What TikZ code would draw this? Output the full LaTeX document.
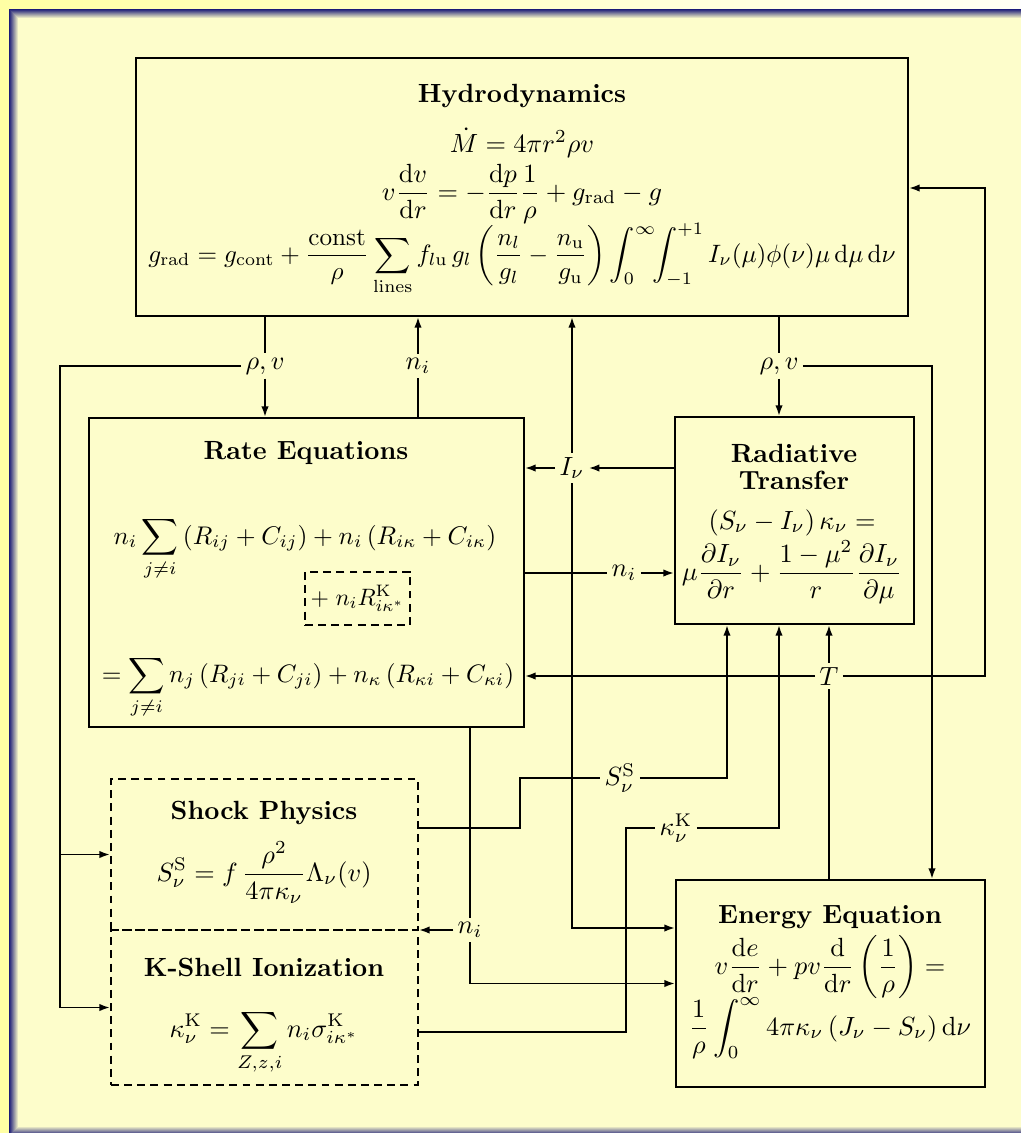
\documentclass[tikz,border=0pt]{standalone}
\usepackage{amsmath}
\usepackage{xcolor}
\usepackage{tikz}
\usetikzlibrary{arrows.meta, positioning, fit, calc}

\definecolor{paper}{HTML}{FFFFCC}
\definecolor{strip}{HTML}{FFFFA4}
\definecolor{stripend}{HTML}{FFFFF4}
\definecolor{frameblue}{HTML}{1A1A78}

\begin{document}
\begin{tikzpicture}[
  x=0.38pt, y=-0.38pt,
  box/.style  = {draw, line width=0.8pt, inner sep=0pt},
  dbox/.style = {box, dash pattern=on 3pt off 2pt},
  head/.style = {font=\bfseries, inner sep=0pt},
  eq/.style   = {anchor=base, inner sep=0pt},
  lbl/.style  = {inner sep=1.5pt},
  ln/.style   = {line width=0.7pt},
  arr/.style  = {-{Latex[length=4pt,width=2.8pt]}, line width=0.7pt},
]
\useasboundingbox (0,0) rectangle (1020,1133);

%% Background and frame
\shade[left color=strip, right color=stripend] (0,0) rectangle (1020,1133);
\foreach \k [evaluate=\k as \mix using int(100-11*\k)] in {0,...,9}
  \fill[frameblue!\mix!paper] (9+\k,9+\k) rectangle (1040,1136-\k);

%% Boxes
\node[box,  fit={(136,58) (908,316)}]   (hydro)  {};
\node[box,  fit={(89,418) (524,727)}]   (rate)   {};
\node[box,  fit={(675,417) (914,624)}]  (rad)    {};
\node[box,  fit={(676,880) (985,1087)}] (energy) {};
\node[dbox, fit={(111,779) (418,930)}]  (shock)  {};
\node[dbox, fit={(111,930) (418,1085)}] (kshell) {};
\node[dbox, fit={(305,572) (410,625)}]  (rk)     {};
\node[scale=0.9, transform shape, inner sep=0pt] (rkA) at (rk.center)
  {$+\;n_i R^{\mathrm{K}}_{i\kappa^*}$};

%% Hydrodynamics
\node[head] (hydT) at (522,96) {Hydrodynamics};
\node[eq] (hydA) at (522,152) {$\dot M = 4\pi r^2\rho v$};
\node[eq] (hydB) at (522,200)
  {$\displaystyle v\frac{\mathrm{d}v}{\mathrm{d}r} = -\frac{\mathrm{d}p}{\mathrm{d}r}\frac{1}{\rho} + g_{\mathrm{rad}} - g$};
\node[eq, scale=0.955, transform shape] (hydC) at (522,262)
  {$\displaystyle g_{\mathrm{rad}} = g_{\mathrm{cont}} + \frac{\mathrm{const}}{\rho}\sum_{\mathrm{lines}} f_{l\mathrm{u}}\, g_l \left(\frac{n_l}{g_l} - \frac{n_{\mathrm{u}}}{g_{\mathrm{u}}}\right) \int_0^\infty\!\!\int_{-1}^{+1} I_\nu(\mu)\phi(\nu)\mu\,\mathrm{d}\mu\,\mathrm{d}\nu$};

%% Rate equations
\node[head] (rateT) at (306,453) {Rate Equations};
\node[eq, scale=0.97, transform shape] (rateA) at (305,544)
  {$\displaystyle n_i\sum_{j\neq i}\,(R_{ij}+C_{ij}) + n_i\,(R_{i\kappa}+C_{i\kappa})$};
\node[eq, scale=0.96, transform shape] (rateB) at (308,682)
  {$\displaystyle = \sum_{j\neq i} n_j\,(R_{ji}+C_{ji}) + n_\kappa\,(R_{\kappa i}+C_{\kappa i})$};

%% Radiative transfer
\node[head, align=center] (radT) at (794,467) {Radiative\\[-2pt]Transfer};
\node[eq] (radA) at (792,529) {$(S_\nu - I_\nu)\,\kappa_\nu =$};
\node[eq] (radB) at (792,580)
  {$\displaystyle \mu\frac{\partial I_\nu}{\partial r} + \frac{1-\mu^2}{r}\frac{\partial I_\nu}{\partial \mu}$};

%% Shock physics and K-shell ionization
\node[head] (shockT) at (264,813) {Shock Physics};
\node[eq] (shockA) at (264,881)
  {$\displaystyle S^{\mathrm{S}}_\nu = f\,\frac{\rho^2}{4\pi\kappa_\nu}\Lambda_\nu(v)$};
\node[head] (kshT) at (264,967) {K-Shell Ionization};
\node[eq] (kshA) at (264,1037)
  {$\displaystyle \kappa^{\mathrm{K}}_\nu = \sum_{Z,z,i} n_i\sigma^{\mathrm{K}}_{i\kappa^*}$};

%% Energy equation
\node[head] (enT) at (830,917) {Energy Equation};
\node[eq] (enA) at (830,974)
  {$\displaystyle v\frac{\mathrm{d}e}{\mathrm{d}r} + pv\frac{\mathrm{d}}{\mathrm{d}r}\left(\frac{1}{\rho}\right) =$};
\node[eq] (enB) at (830,1035)
  {$\displaystyle \frac{1}{\rho}\int_0^\infty 4\pi\kappa_\nu\,(J_\nu - S_\nu)\,\mathrm{d}\nu$};

%% Connector labels
\node[lbl] (rhoL) at (265,366) {$\rho, v$};
\node[lbl] (niH)  at (418,366) {$n_i$};
\node[lbl] (rhoR) at (779,366) {$\rho, v$};
\node[lbl] (Inu)  at (572,468) {$I_\nu$};
\node[lbl] (niR)  at (624,573) {$n_i$};
\node[lbl] (T)    at (829,676) {$T$};
\node[lbl] (SS)   at (620,778) {$S^{\mathrm{S}}_\nu$};
\node[lbl] (kK)   at (676,828) {$\kappa^{\mathrm{K}}_\nu$};
\node[lbl] (niS)  at (470,930) {$n_i$};

%% Bend points
\coordinate (lcol) at (60,366);
\coordinate (rcol) at (932,366);
\coordinate (tcol) at (985,188);
\coordinate (sb)   at (520,828);
\coordinate (kb)   at (626,1032);
\coordinate (ib)   at (572,928);
\coordinate (scol) at (727,0);
\coordinate (kcol) at (779,0);

%% Hydrodynamics -> rate equations, shock, K-shell
\draw[ln]  (hydro.south -| rhoL) -- (rhoL);
\draw[arr] (rhoL) -- (rhoL |- rate.north);
\draw[ln]  (rhoL) -- (lcol) -- (lcol |- kshell.west);
\draw[arr] (lcol |- shock.west) -- (shock.west);
\draw[arr] (lcol |- kshell.west) -- (kshell.west);

%% Rate equations -> hydrodynamics
\draw[ln]  (rate.north -| niH) -- (niH);
\draw[arr] (niH) -- (niH |- hydro.south);

%% Hydrodynamics -> radiative transfer, energy
\draw[ln]  (hydro.south -| rhoR) -- (rhoR);
\draw[arr] (rhoR) -- (rhoR |- rad.north);
\draw[arr] (rhoR) -- (rcol) -- (rcol |- energy.north);

%% Radiative transfer -> others (I_nu)
\draw[arr] (rad.west |- Inu) -- (Inu);
\draw[arr] (Inu) -- (Inu -| rate.east);
\draw[arr] (Inu) -- (Inu |- hydro.south);
\draw[arr] (Inu) |- (energy.west |- ib);

%% Rate equations -> radiative transfer, shock, energy
\draw[ln]  (rate.east |- niR) -- (niR);
\draw[arr] (niR) -- (niR -| rad.west);
\draw[ln]  (rate.south -| niS) -- (niS);
\draw[arr] (niS) -- (niS -| shock.east);
\draw[arr] (niS) |- (energy.west);

%% Energy -> temperature
\draw[ln]  (energy.north -| T) -- (T);
\draw[arr] (T) -- (T |- rad.south);
\draw[arr] (T) -- (T -| rate.east);
\draw[arr] (T) -| (tcol) -- (tcol -| hydro.east);

%% Shock, K-shell -> radiative transfer
\draw[ln]  (shock.east |- sb) -- (sb) |- (SS);
\draw[arr] (SS) -| (rad.south -| scol);
\draw[ln]  (kshell.east |- kb) -- (kb) |- (kK);
\draw[arr] (kK) -| (rad.south -| kcol);

\end{tikzpicture}
\end{document}
